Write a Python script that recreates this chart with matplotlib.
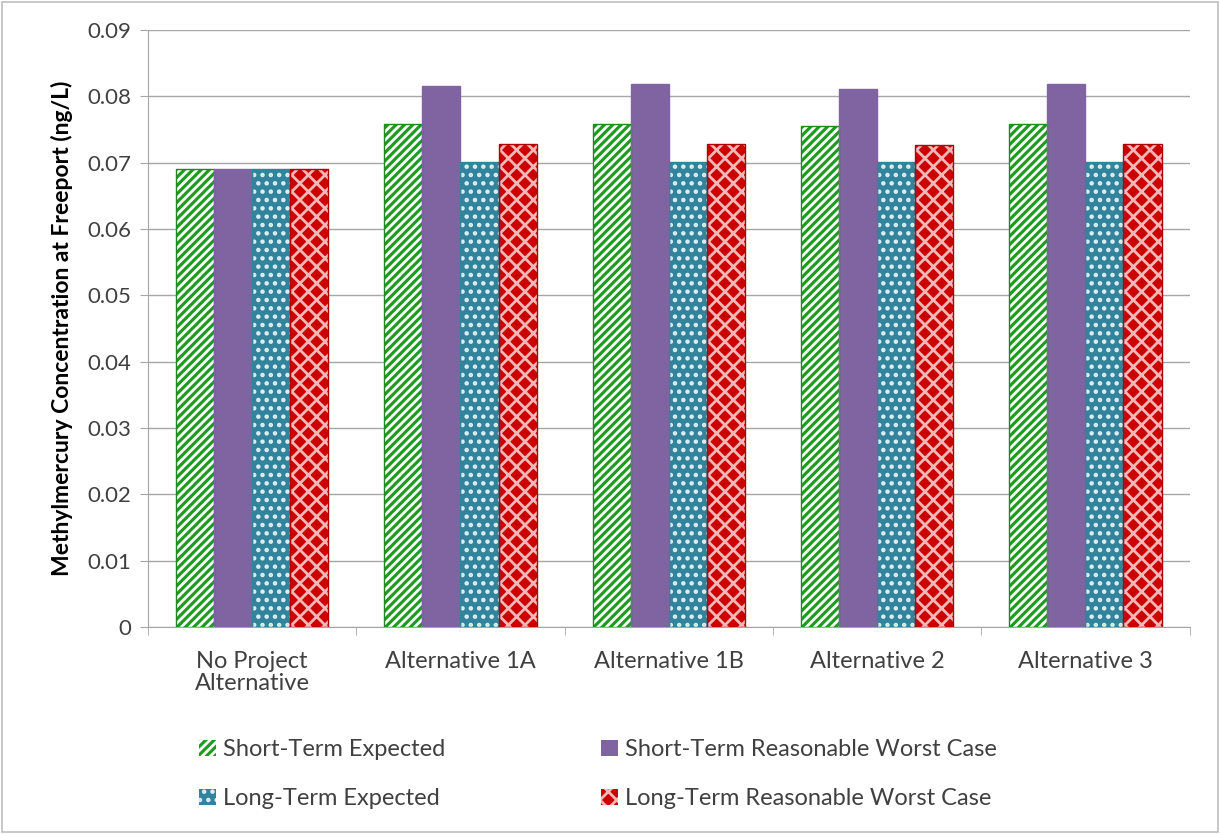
import numpy as np
from matplotlib import pyplot as plt
from matplotlib.patches import Patch, Rectangle

categories = ['No Project\nAlternative', 'Alternative 1A', 'Alternative 1B', 'Alternative 2', 'Alternative 3']
st_expected = [0.0690, 0.0758, 0.0758, 0.0755, 0.0758]
st_worst = [0.0690, 0.0816, 0.0819, 0.0811, 0.0819]
lt_expected = [0.0690, 0.0701, 0.0701, 0.0701, 0.0701]
lt_worst = [0.0690, 0.0728, 0.0728, 0.0727, 0.0728]
series_names = ['Short-Term Expected', 'Short-Term Reasonable Worst Case',
                'Long-Term Expected', 'Long-Term Reasonable Worst Case']

plt.rcParams['font.family'] = ['Lato', 'DejaVu Sans']
plt.rcParams['hatch.linewidth'] = 2.0

fig = plt.figure(figsize=(12.2, 8.34), dpi=100)
ax = fig.add_axes([0.1213, 0.2482, 0.8537, 0.7158])

x = np.arange(len(categories))
w = 0.183
styles = [
    dict(face='#1E9A1E', hatch='////', hcol='white', edge='#1E8A1E'),
    dict(face='#8064A2', hatch='', hcol='#8064A2', edge='#8064A2'),
    dict(face='#31849B', hatch='..', hcol='#DDEEF3', edge='#31849B'),
    dict(face='#CC0000', hatch='xx', hcol='#F2B8B8', edge='#B00000'),
]
data = [st_expected, st_worst, lt_expected, lt_worst]
for i, (vals, s) in enumerate(zip(data, styles)):
    pos = x + (i - 1.5) * w
    ax.bar(pos, vals, w, color=s['face'], edgecolor=s['hcol'], hatch=s['hatch'], linewidth=0, zorder=3)
    ax.bar(pos, vals, w, fill=False, edgecolor=s['edge'], linewidth=1, zorder=4)

ax.set_xlim(-0.5, len(categories) - 0.5)
ax.set_ylim(0, 0.09)
ax.set_yticks(np.arange(0, 0.0901, 0.01))
ax.set_yticklabels(['0'] + ['%.2f' % v for v in np.arange(0.01, 0.0901, 0.01)])
ax.set_xticks(x)
ax.set_xticklabels(categories, fontsize=17, color='#404040', linespacing=1.1)
ax.set_xticks(np.arange(-0.5, len(categories), 1), minor=True)
ax.tick_params(axis='x', which='major', length=0, pad=17)
ax.tick_params(axis='x', which='minor', length=6, color='#A6A6A6')
ax.tick_params(axis='y', labelsize=16, colors='#404040', length=6, color='#A6A6A6', pad=6)
ax.grid(axis='y', color='#A6A6A6', linewidth=1, zorder=0)
ax.set_axisbelow(True)
for sp in ['top', 'right']:
    ax.spines[sp].set_visible(False)
for sp in ['left', 'bottom']:
    ax.spines[sp].set_color('#A6A6A6')
ax.set_ylabel('Methylmercury Concentration at Freeport (ng/L)', fontsize=16.5, fontweight='bold', labelpad=10)

# legend fills column-wise, so order the entries to read row by row
order = [0, 2, 1, 3]
handles = [Patch(facecolor=styles[i]['face'], edgecolor=styles[i]['hcol'], hatch=styles[i]['hatch'], linewidth=0)
           for i in order]
labels = [series_names[i] for i in order]
fig.legend(handles, labels, loc='lower left', bbox_to_anchor=(0.146, 0.004), ncol=2,
           frameon=False, fontsize=17, handlelength=0.7, handleheight=0.7, handletextpad=0.3,
           columnspacing=6.6, labelspacing=1.2, labelcolor='#404040')

fig.add_artist(Rectangle((0.002, 0.002), 0.996, 0.996, transform=fig.transFigure,
                         fill=False, edgecolor='#BFBFBF', linewidth=1.2))

plt.savefig('out.png', dpi=100)
